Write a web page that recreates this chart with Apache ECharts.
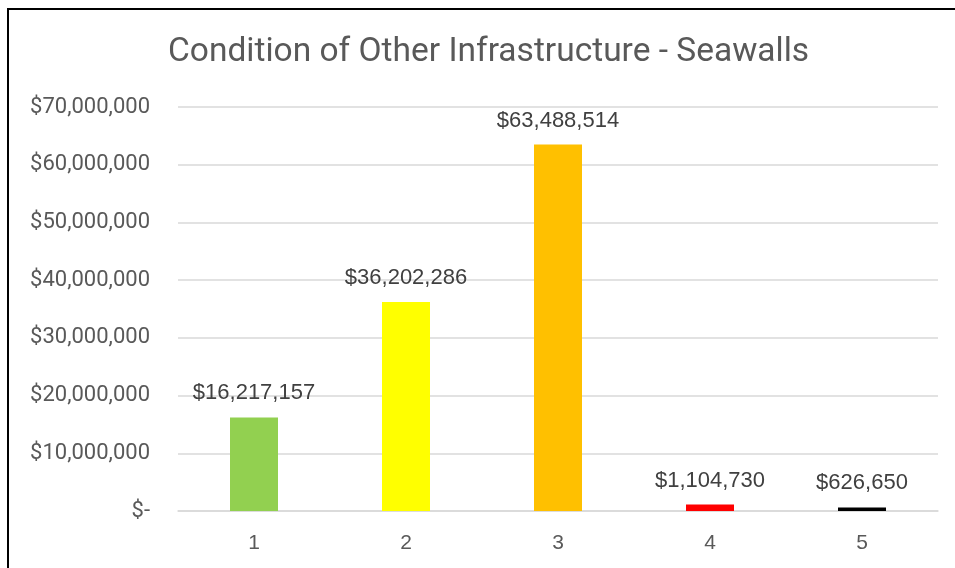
<!DOCTYPE html>
<html>
<head>
<meta charset="utf-8">
<script src="https://cdn.jsdelivr.net/npm/echarts@6/dist/echarts.min.js"></script>
<style>
  html, body { margin: 0; padding: 0; background: #fff; }
  #frame { position: absolute; left: 7px; top: 8px; width: 960px; height: 580px; border: 2px solid #000; box-sizing: border-box; }
  #chart { position: absolute; left: 0; top: 0; width: 955px; height: 568px; }
</style>
</head>
<body>
<div id="frame"></div>
<div id="chart"></div>
<script>
// 状况等级 1-5 及对应金额
const categories = ['1', '2', '3', '4', '5']
const values = [16217157, 36202286, 63488514, 1104730, 626650]
const barColors = ['#92D050', '#FFFF00', '#FFC000', '#FF0000', '#000000']

const money = v => '$' + Math.round(v).toLocaleString('en-US')

const chart = echarts.init(document.getElementById('chart'))
chart.setOption({
  animation: false,
  title: {
    text: 'Condition of Other Infrastructure - Seawalls',
    left: 163, top: 31,
    textStyle: { fontFamily: 'Roboto', fontSize: 33.5, fontWeight: 'normal', color: '#595959' },
  },
  grid: { left: 178, right: 17, top: 107, bottom: 57 },
  xAxis: {
    type: 'category', data: categories,
    axisLine: { lineStyle: { color: '#d9d9d9', width: 1.5 } },
    axisTick: { show: false },
    axisLabel: { fontFamily: 'Liberation Sans', fontSize: 21, color: '#595959', margin: 22 },
  },
  yAxis: {
    type: 'value', min: 0, max: 70000000, interval: 10000000,
    axisLine: { show: false },
    axisTick: { show: false },
    splitLine: { lineStyle: { color: '#d9d9d9', width: 1.5 } },
    axisLabel: {
      fontFamily: 'Roboto', fontSize: 22, color: '#595959', margin: 28,
      formatter: v => v === 0 ? '$-' : money(v),
    },
  },
  series: [{
    type: 'bar', barWidth: 48,
    data: values.map((v, i) => ({ value: v, itemStyle: { color: barColors[i] } })),
    label: {
      show: true, position: 'top', distance: 13,
      fontFamily: 'Liberation Sans', fontSize: 22, color: '#404040',
      formatter: p => money(p.value),
    },
  }],
})
</script>
</body>
</html>
